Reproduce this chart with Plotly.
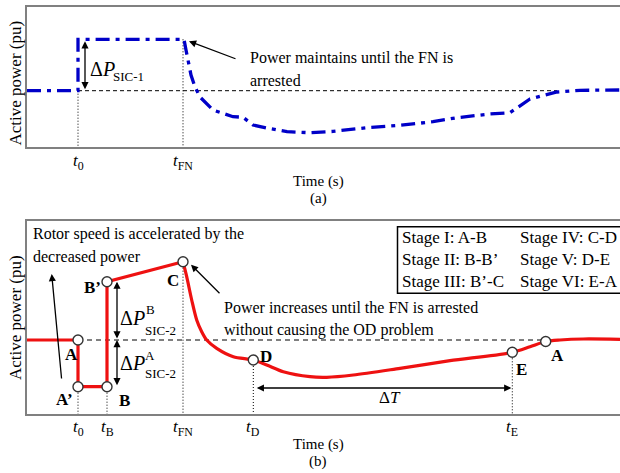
import plotly.graph_objects as go

W, H = 620, 473


def px(x):
    return x / W


def py(y):
    return 1 - y / H


# ---------------- data ----------------
# key instants (s)
t0 = 5.1
tB = 8.0
tFN = 15.6
tD = 22.63
tE = 48.53
p_base = 1.0  # pre-disturbance power (pu)

# panel (a): SIC-1 power
time_a = [0, 5.1, 5.1, 15.7, 15.9, 16.1, 16.4, 16.8, 17.3, 18.6, 20.6, 21.6, 22.1,
          22.6, 24.0, 26.0, 28.3, 30.6, 34.0, 37.3, 40.6, 43.0, 46.3, 48.3, 50.3,
          51.8, 53.0, 55.3, 59.3]
power_a = [1.0, 1.0, 1.514, 1.514, 1.407, 1.287, 1.157, 1.037, 0.937, 0.807, 0.74,
           0.735, 0.70, 0.657, 0.627, 0.59, 0.58, 0.593, 0.63, 0.654, 0.69, 0.73,
           0.767, 0.78, 0.917, 0.957, 0.987, 1.004, 1.007]
p_high_a = 1.514
t_rejoin_a = 53.0

# panel (b): SIC-2 power, piecewise part (A -> A' -> B -> B' -> C)
time_b_step = [0, 5.1, 5.1, 8.0, 8.0, 15.6]
power_b_step = [1.0, 1.0, 0.533, 0.533, 1.583, 1.783]
# smooth part (C -> D -> E -> A -> steady)
time_b_curve = [15.6, 15.97, 16.47, 16.97, 17.47, 17.97, 18.97, 20.63, 22.63, 23.97,
                25.63, 28.3, 29.97, 32.63, 37.3, 42.3, 48.53, 50.3, 51.87, 53.3,
                55.63, 59.3]
power_b_curve = [1.783, 1.633, 1.4, 1.2, 1.083, 1.0, 0.917, 0.833, 0.8, 0.75, 0.683,
                 0.633, 0.627, 0.65, 0.717, 0.793, 0.877, 0.933, 0.985, 1.0, 1.01,
                 1.007]
# labelled operating points
point_names = ["A", "A’", "B", "B’", "C", "D", "E", "A"]
point_time = [5.1, 5.1, 8.0, 8.0, 15.6, 22.63, 48.53, 51.87]
point_power = [1.0, 0.533, 0.533, 1.583, 1.783, 0.8, 0.877, 0.985]

ticks_a = [t0, tFN]
ticklabels_a = ["<i>t</i><sub>0</sub>", "<i>t</i><sub>FN</sub>"]
ticks_b = [t0, tB, tFN, tD, tE]
ticklabels_b = ["<i>t</i><sub>0</sub>", "<i>t</i><sub>B</sub>", "<i>t</i><sub>FN</sub>",
                "<i>t</i><sub>D</sub>", "<i>t</i><sub>E</sub>"]
stage_labels = ["Stage I: A-B", "Stage II: B-B’", "Stage III: B’-C",
                "Stage IV: C-D", "Stage V: D-E", "Stage VI: E-A"]

# ---------------- style ----------------
FONT = "Liberation Serif, Times New Roman, serif"
BLUE = "#0000c8"
RED = "#ee1111"
GRAY = "#808080"
XRANGE = [0, 59.3]
YRANGE_A = [0.437, 1.834]
YRANGE_B = [0.26, 2.193]

fig = go.Figure()

# ---- panel (a) ----
fig.add_trace(go.Scatter(x=[t0, t_rejoin_a], y=[p_base, p_base], mode="lines",
                         line=dict(color="black", width=1, dash="4px,3px"),
                         xaxis="x", yaxis="y", hoverinfo="skip"))
for tv, top in [(t0, p_base), (tFN, p_high_a)]:
    fig.add_trace(go.Scatter(x=[tv, tv], y=[top, YRANGE_A[0]], mode="lines",
                             line=dict(color="black", width=1, dash="1px,2px"),
                             xaxis="x", yaxis="y", hoverinfo="skip"))
fig.add_trace(go.Scatter(x=time_a, y=power_a, mode="lines",
                         line=dict(color=BLUE, width=3.3, dash="14px,6px,4px,6px"),
                         xaxis="x", yaxis="y"))

# ---- panel (b) ----
fig.add_trace(go.Scatter(x=[t0, point_time[-1]], y=[p_base, p_base], mode="lines",
                         line=dict(color="black", width=1, dash="5px,4px"),
                         xaxis="x2", yaxis="y2", hoverinfo="skip"))
for i in [1, 2, 4, 5, 6]:
    fig.add_trace(go.Scatter(x=[point_time[i], point_time[i]],
                             y=[point_power[i], YRANGE_B[0]], mode="lines",
                             line=dict(color="black", width=1, dash="1px,2px"),
                             xaxis="x2", yaxis="y2", hoverinfo="skip"))
fig.add_trace(go.Scatter(x=time_b_step, y=power_b_step, mode="lines",
                         line=dict(color=RED, width=3.2),
                         xaxis="x2", yaxis="y2"))
fig.add_trace(go.Scatter(x=time_b_curve, y=power_b_curve, mode="lines",
                         line=dict(color=RED, width=3.2, shape="spline", smoothing=0.8),
                         xaxis="x2", yaxis="y2"))
fig.add_trace(go.Scatter(x=point_time, y=point_power, mode="markers",
                         marker=dict(size=10, color="white",
                                     line=dict(color="#333333", width=1.4)),
                         xaxis="x2", yaxis="y2"))

ann = []


def text(x, y, s, size=16, xanchor="left", bold=False, **kw):
    if bold:
        s = "<b>" + s + "</b>"
    ann.append(dict(x=px(x), y=py(y), xref="paper", yref="paper", text=s,
                    showarrow=False, xanchor=xanchor, yanchor="middle",
                    font=dict(family=FONT, size=size, color="black"), **kw))


def tick_text(xaxis, tv, y, s):
    ann.append(dict(x=tv, y=py(y), xref=xaxis, yref="paper", text=s,
                    showarrow=False, xanchor="center", yanchor="middle",
                    font=dict(family=FONT, size=17, color="black")))


def arrow(xr, yr, x, y, ax, ay, both=False, axref=None, ayref=None):
    d = dict(x=x, y=y, xref=xr, yref=yr, text="", showarrow=True,
             arrowhead=2, arrowsize=1.1, arrowwidth=1.3, arrowcolor="black",
             ax=ax, ay=ay, standoff=0, startstandoff=0)
    if axref:
        d["axref"] = axref
    if ayref:
        d["ayref"] = ayref
    if both:
        d["arrowside"] = "end+start"
        d["startarrowhead"] = 2
        d["startarrowsize"] = 1.1
    ann.append(d)


# ---- panel (a) annotations ----
text(15, 83.5, "Active power (pu)", size=17, xanchor="center", textangle=-90)
for tv, s in zip(ticks_a, ticklabels_a):
    tick_text("x", tv, 162, s)
text(318, 181.5, "Time (s)", size=15, xanchor="center")
text(318, 198, "(a)", size=15, xanchor="center")
text(248, 57, "Power maintains until the FN is")
text(248, 80, "arrested")
arrow("x", "y", tFN + 0.6, p_high_a - 0.02, 48, 18)
arrow("x", "y", t0 + 0.7, p_high_a - 0.02, t0 + 0.7, p_base, both=True,
      axref="x", ayref="y")
text(88, 69, "Δ<i>P</i>", size=20)
text(111, 76, "SIC-1", size=13)

# ---- panel (b) annotations ----
text(15, 318, "Active power (pu)", size=17, xanchor="center", textangle=-90)
for tv, s in zip(ticks_b, ticklabels_b):
    tick_text("x2", tv, 428, s)
text(318, 444, "Time (s)", size=15, xanchor="center")
text(318, 461, "(b)", size=15, xanchor="center")
text(31, 234, "Rotor speed is accelerated by the")
text(31, 257, "decreased power")
text(222, 307, "Power increases until the FN is arrested")
text(222, 330, "without causing the OD problem")
# arrows
arrow("paper", "paper", px(51.7), py(274), 10, 106)
arrow("x2", "y2", tFN + 0.8, point_power[4] - 0.03, 30, 30)
arrow("x2", "y2", tB + 1.0, point_power[3], tB + 1.0, p_base, both=True,
      axref="x2", ayref="y2")
arrow("x2", "y2", tB + 1.0, p_base, tB + 1.0, point_power[2], both=True,
      axref="x2", ayref="y2")
arrow("x2", "y2", tE - 0.1, 0.52, tD + 0.2, 0.52, both=True,
      axref="x2", ayref="y2")
text(390, 397, "Δ<i>T</i>", size=17, xanchor="center")
text(118, 318, "Δ<i>P</i>", size=20)
text(150, 309, "B", size=13, xanchor="center")
text(142.5, 330, "SIC-2", size=13)
text(118, 363, "Δ<i>P</i>", size=20)
text(149.5, 355, "A", size=13, xanchor="center")
text(142.5, 373, "SIC-2", size=13)

# point labels
label_px = [(71, 354), (64, 399), (124, 400), (92, 287), (173, 280),
            (266, 356), (521, 369), (557, 355)]
for name, (lx, ly) in zip(point_names, label_px):
    text(lx, ly, name, size=17, xanchor="center", bold=True)

# stage legend
for i, s in enumerate(stage_labels):
    col = i // 3
    row = i % 3
    text(400 if col == 0 else 518, [237, 259, 281.5][row], s, size=17)

shapes = [dict(type="rect", xref="paper", yref="paper", x0=px(397.5), x1=px(640),
               y0=py(226.7), y1=py(293.3), line=dict(color="black", width=1.5),
               fillcolor="rgba(0,0,0,0)")]

axis_common = dict(showgrid=False, zeroline=False, showline=True, linecolor=GRAY,
                   linewidth=2, ticks="", showticklabels=False)
fig.update_layout(
    width=W, height=H, margin=dict(l=0, r=0, t=0, b=0),
    paper_bgcolor="white", plot_bgcolor="white", showlegend=False,
    xaxis=dict(domain=[px(27), 1], range=XRANGE, anchor="y", mirror=True,
               **axis_common),
    yaxis=dict(domain=[py(147), py(7.3)], range=YRANGE_A, anchor="x",
               **axis_common),
    xaxis2=dict(domain=[px(27), 1], range=XRANGE, anchor="y2", mirror=True,
                **axis_common),
    yaxis2=dict(domain=[py(414), py(220.7)], range=YRANGE_B, anchor="x2",
                **axis_common),
    annotations=ann, shapes=shapes,
)

fig.write_html("out.html")
